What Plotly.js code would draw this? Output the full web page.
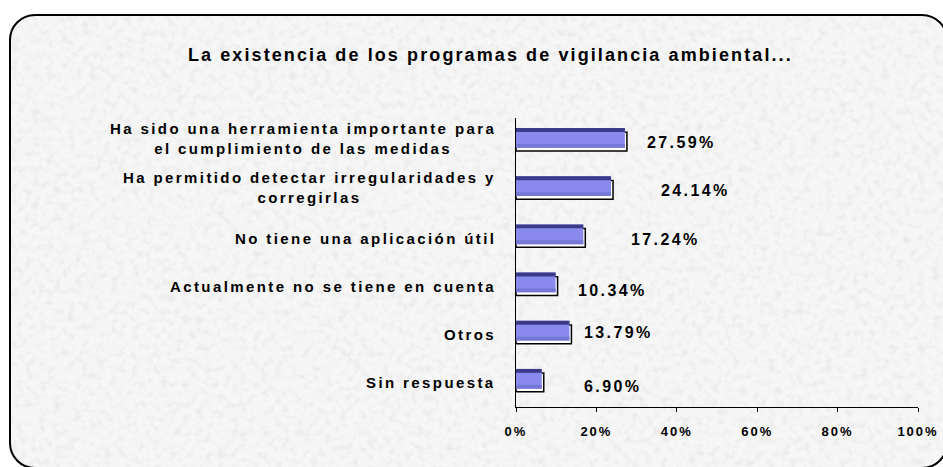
<!DOCTYPE html>
<html>
<head>
<meta charset="utf-8">
<script src="https://cdn.plot.ly/plotly-3.0.1.min.js"></script>
<style>
  html, body { margin: 0; padding: 0; background: #ffffff; overflow: hidden; }
  #wrap { position: relative; width: 943px; height: 467px; overflow: hidden; }
  #frame {
    position: absolute; left: 9px; top: 14px; width: 939px; height: 455px;
    box-sizing: border-box; border: 2px solid #000; border-radius: 26px;
    background-color: #eeeeee;
    background-image: url("data:image/svg+xml;utf8,<svg xmlns='http://www.w3.org/2000/svg' width='960' height='480'><filter id='n'><feTurbulence type='fractalNoise' baseFrequency='0.14' numOctaves='3' seed='7'/><feColorMatrix values='0 0 0 0 0.7  0 0 0 0 0.7  0 0 0 0 0.7  1.1 0 0 0 -0.5'/></filter><rect width='100%' height='100%' fill='%23f6f6f6'/><rect width='100%' height='100%' filter='url(%23n)'/></svg>");
  }
  #chart { position: absolute; left: 0; top: 0; width: 943px; height: 467px; }
  .gtitle { letter-spacing: 2.1px; }
  .xtick text { letter-spacing: 2px; }
  .annotation-text { letter-spacing: 2.4px; }
</style>
</head>
<body>
<div id="wrap">
  <div id="frame"></div>
  <div id="chart"></div>
</div>
<script>
// ---- data ----
var categories = [
  "Ha sido una herramienta importante para<br>el cumplimiento de las medidas",
  "Ha permitido detectar irregularidades y<br>corregirlas",
  "No tiene una aplicación útil",
  "Actualmente no se tiene en cuenta",
  "Otros",
  "Sin respuesta"
];
var values = [27.59, 24.14, 17.24, 10.34, 13.79, 6.90];
var valueLabels = ["27.59%", "24.14%", "17.24%", "10.34%", "13.79%", "6.90%"];
var tickVals = [0, 20, 40, 60, 80, 100];
var tickLabels = ["0%", "20%", "40%", "60%", "80%", "100%"];
var titleText = "La existencia de los programas de vigilancia ambiental...";

// ---- styling (positions of manually placed data labels) ----
var labelXShift = [18, 46, 44, 18, 11, 38];
var labelYShift = [0, 0, -1, -4, 2, -4];
var catYShift = [4, 3, 0, 0, 0, 0];

var FONT = "Liberation Sans, Arial, sans-serif";

var outline = {
  type: "bar", orientation: "h", y: categories, x: values,
  width: 0.39, offset: -0.205,
  marker: { color: "#ffffff", line: { color: "#000000", width: 1.5 } },
  hoverinfo: "skip", showlegend: false, cliponaxis: false
};
var fill = {
  type: "bar", orientation: "h", y: categories, x: values, base: -0.5,
  width: 0.41, offset: -0.29,
  marker: { color: "#8a8aee", line: { width: 0 } },
  hoverinfo: "skip", showlegend: false, cliponaxis: false
};
var band = {
  type: "bar", orientation: "h", y: categories, x: values, base: -0.5,
  width: 0.08, offset: 0.04,
  marker: { color: "#7676d6", line: { width: 0 } },
  hoverinfo: "skip", showlegend: false, cliponaxis: false
};
var stripe = {
  type: "bar", orientation: "h", y: categories, x: values, base: -0.5,
  width: 0.08, offset: -0.29,
  marker: { color: "#3a3a88", line: { width: 0 } },
  hoverinfo: "skip", showlegend: false, cliponaxis: false
};

var annotations = [];
categories.forEach(function (c, i) {
  annotations.push({
    xref: "paper", yref: "y", x: 0, y: c, xanchor: "right", yanchor: "middle",
    xshift: -18, yshift: catYShift[i], align: "center", showarrow: false,
    text: c, font: { family: FONT, size: 15, color: "#000", weight: "bold" }
  });
});
values.forEach(function (v, i) {
  annotations.push({
    xref: "x", yref: "y", x: v, y: categories[i], xanchor: "left", yanchor: "middle",
    xshift: labelXShift[i], yshift: labelYShift[i], showarrow: false,
    text: valueLabels[i], font: { family: FONT, size: 16, color: "#000", weight: "bold" }
  });
});

var layout = {
  width: 943, height: 467,
  margin: { l: 516, r: 25, t: 118, b: 60 },
  paper_bgcolor: "rgba(0,0,0,0)", plot_bgcolor: "rgba(0,0,0,0)",
  barmode: "overlay",
  title: {
    text: "<b>" + titleText + "</b>",
    x: 0.52, xref: "container", xanchor: "center", y: 0.882, yref: "container", yanchor: "middle",
    font: { family: FONT, size: 18, color: "#000" }
  },
  xaxis: {
    range: [0, 100], tickvals: tickVals, ticktext: tickLabels,
    showline: true, linecolor: "#000", linewidth: 1,
    ticks: "outside", ticklen: 4, tickcolor: "#000", tickwidth: 1,
    ticklabelstandoff: 8,
    showgrid: false, zeroline: false,
    tickfont: { family: FONT, size: 13, color: "#000", weight: "bold" }
  },
  yaxis: {
    type: "category", autorange: "reversed",
    showline: true, linecolor: "#000", linewidth: 1,
    showticklabels: false, ticks: "", showgrid: false, zeroline: false
  },
  annotations: annotations,
  font: { family: FONT }
};

Plotly.newPlot("chart", [outline, fill, band, stripe], layout, { displayModeBar: false, staticPlot: true });
</script>
</body>
</html>
